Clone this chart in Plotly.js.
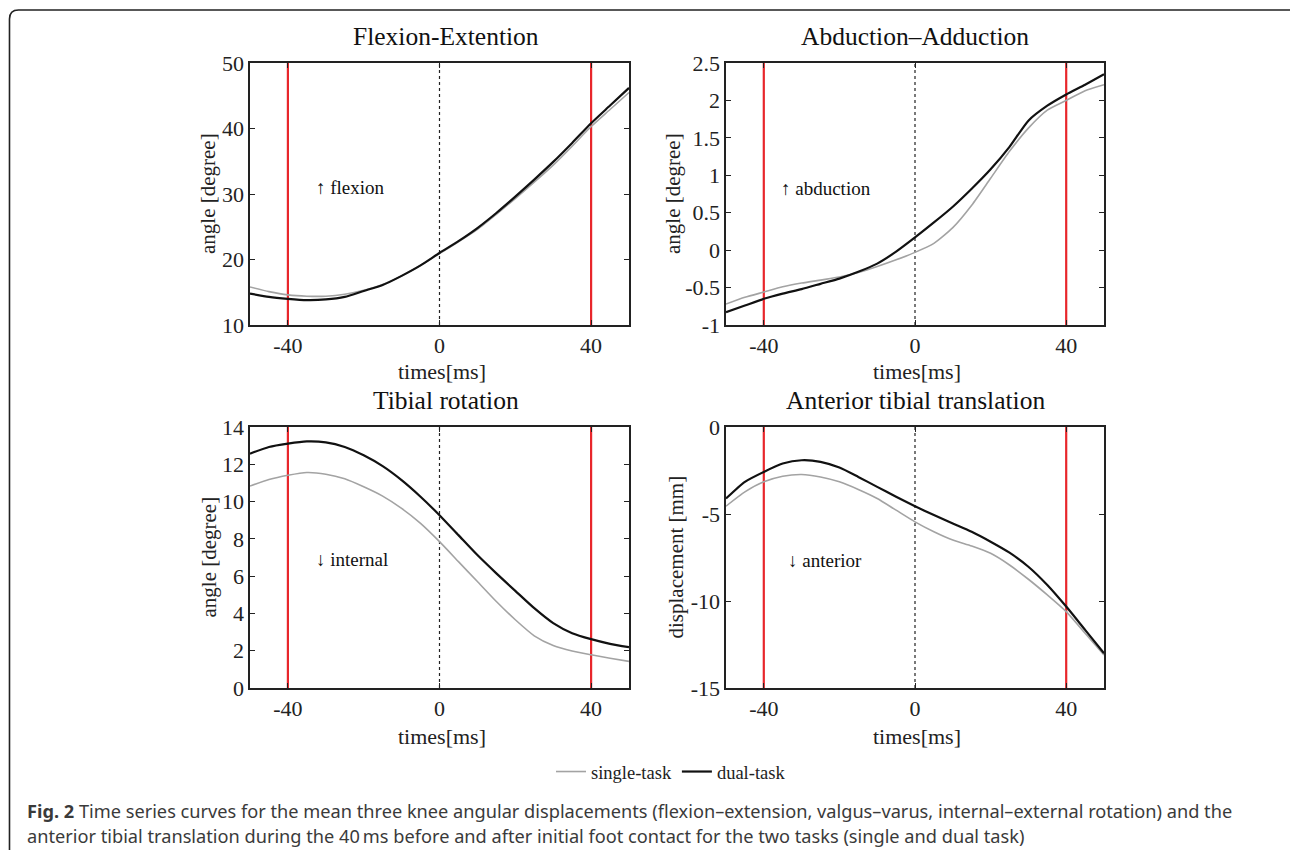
<!DOCTYPE html>
<html>
<head>
<meta charset="utf-8">
<script src="https://cdn.plot.ly/plotly-3.0.1.min.js"></script>
<style>html,body{margin:0;padding:0;background:#fff;}#chart{width:1290px;height:850px;}</style>
</head>
<body>
<div id="chart"></div>
<script>
// ---------------- data ----------------
const times = [-50,-45,-40,-35,-30,-25,-20,-15,-10,-5,0,5,10,15,20,25,30,35,40,45,50];

const flexSingle = [15.8,15.1,14.6,14.4,14.4,14.7,15.3,16.2,17.5,19.1,20.9,22.7,24.6,26.9,29.3,31.8,34.4,37.3,40.3,42.9,45.5];
const flexDual   = [14.8,14.3,14.0,13.8,13.9,14.3,15.2,16.1,17.5,19.1,21.0,22.8,24.8,27.1,29.6,32.2,34.9,37.8,40.8,43.5,46.2];

const abdSingle = [-0.72,-0.63,-0.56,-0.49,-0.44,-0.40,-0.36,-0.30,-0.22,-0.13,-0.03,0.09,0.30,0.60,0.96,1.32,1.63,1.87,2.00,2.13,2.21];
const abdDual   = [-0.83,-0.74,-0.65,-0.58,-0.52,-0.45,-0.38,-0.29,-0.18,-0.02,0.17,0.37,0.58,0.82,1.08,1.38,1.73,1.93,2.08,2.21,2.35];

const rotSingle = [10.83,11.18,11.41,11.56,11.47,11.22,10.79,10.29,9.63,8.83,7.85,6.78,5.71,4.64,3.66,2.80,2.28,1.98,1.78,1.60,1.43];
const rotDual   = [12.57,12.93,13.11,13.23,13.18,12.93,12.48,11.90,11.15,10.26,9.27,8.20,7.13,6.15,5.21,4.28,3.48,2.94,2.62,2.37,2.19];

const transSingle = [-4.55,-3.73,-3.15,-2.83,-2.73,-2.87,-3.15,-3.59,-4.11,-4.78,-5.45,-6.02,-6.50,-6.84,-7.26,-7.93,-8.75,-9.65,-10.61,-11.85,-13.1];
const transDual   = [-4.11,-3.15,-2.58,-2.10,-1.91,-2.00,-2.33,-2.87,-3.44,-4.01,-4.55,-5.06,-5.54,-6.02,-6.59,-7.22,-8.03,-9.08,-10.32,-11.66,-13.0];

const seriesNames = ['single-task','dual-task'];
const panelTitles = ['Flexion-Extention','Abduction\u2013Adduction','Tibial rotation','Anterior tibial translation'];
const yTitles = ['angle [degree]','angle [degree]','angle [degree]','displacement [mm]'];
const xTitle = 'times[ms]';
const directionLabels = ['\u2191 flexion','\u2191 abduction','\u2193 internal','\u2193 anterior'];
const directionPos = [[-33,31],[-36,0.83],[-33,6.9],[-34,-7.7]];

const xTickVals = [-40,0,40];
const xTickText = ['-40','0','40'];
const yTicks = [
  {vals:[10,20,30,40,50], text:['10','20','30','40','50'], range:[10,50]},
  {vals:[-1,-0.5,0,0.5,1,1.5,2,2.5], text:['-1','-0.5','0','0.5','1','1.5','2','2.5'], range:[-1,2.5]},
  {vals:[0,2,4,6,8,10,12,14], text:['0','2','4','6','8','10','12','14'], range:[0,14]},
  {vals:[-15,-10,-5,0], text:['-15','-10','-5','0'], range:[-15,0]}
];
const eventTimes = [-40,40];   // red lines
const contactTime = [0];       // dotted line

const caption1 = '<b>Fig. 2</b> Time series curves for the mean three knee angular displacements (flexion\u2013extension, valgus\u2013varus, internal\u2013external rotation) and the';
const caption2 = 'anterior tibial translation during the 40\u2009ms before and after initial foot contact for the two tasks (single and dual task)';

// ---------------- layout helpers ----------------
const W = 1290, H = 850;
const px = v => v / W;
const py = v => 1 - v / H;
const serif = 'Liberation Serif, Times New Roman, serif';
const txt = '#222';

// plot boxes in pixels [left,right,top,bottom]
const boxes = [[250,629,63,325],[726,1104,63,325],[250,629,427,688],[726,1104,427,688]];

const seriesData = [[flexSingle,flexDual],[abdSingle,abdDual],[rotSingle,rotDual],[transSingle,transDual]];
const traces = [];
seriesData.forEach((pair, i) => {
  const sfx = i === 0 ? '' : String(i + 1);
  pair.forEach((ys, j) => {
    traces.push({
      x: times, y: ys, type: 'scatter', mode: 'lines',
      name: seriesNames[j], legendgroup: seriesNames[j], showlegend: i === 0,
      xaxis: 'x' + sfx, yaxis: 'y' + sfx,
      line: {color: j === 0 ? '#a3a3a3' : '#111111', width: j === 0 ? 1.6 : 2.2, shape: 'spline', smoothing: 0.6},
      hoverinfo: 'skip'
    });
  });
});

const layout = {
  width: W, height: H,
  margin: {l:0, r:0, t:0, b:0},
  paper_bgcolor: '#fff', plot_bgcolor: '#fff',
  showlegend: true,
  legend: {orientation:'h', x: px(671), xanchor:'center', y: py(772), yanchor:'middle',
           font:{family:serif, size:18.5, color:txt}, bgcolor:'rgba(0,0,0,0)', itemwidth:30, tracegroupgap:0},
  shapes: [], annotations: []
};

boxes.forEach((b, i) => {
  const sfx = i === 0 ? '' : String(i + 1);
  const xa = {
    domain:[px(b[0]), px(b[1])], range:[-50,50], anchor:'y'+sfx,
    tickvals:xTickVals, ticktext:xTickText, ticks:'inside', ticklen:5, tickwidth:1, tickcolor:'#222',
    showline:true, linecolor:'#222', linewidth:1.6, mirror:'ticks', showgrid:false, zeroline:false,
    tickfont:{family:serif, size:22, color:txt}, fixedrange:true
  };
  const yt = yTicks[i];
  const ya = {
    domain:[py(b[3]), py(b[2])], range:yt.range, anchor:'x'+sfx,
    tickvals:yt.vals, ticktext:yt.text, ticks:'inside', ticklen:5, tickwidth:1, tickcolor:'#222',
    showline:true, linecolor:'#222', linewidth:1.6, mirror:'ticks', showgrid:false, zeroline:false,
    tickfont:{family:serif, size:22, color:txt}, fixedrange:true
  };
  layout['xaxis' + sfx] = xa;
  layout['yaxis' + sfx] = ya;

  eventTimes.forEach(t => layout.shapes.push({
    type:'line', xref:'x'+sfx, yref:'y'+sfx+' domain', x0:t, x1:t, y0:0, y1:1,
    line:{color:'#e8262b', width:2.2}, layer:'below'
  }));
  contactTime.forEach(t => layout.shapes.push({
    type:'line', xref:'x'+sfx, yref:'y'+sfx+' domain', x0:t, x1:t, y0:0, y1:1,
    line:{color:'#222', width:1.2, dash:'dot'}, layer:'below'
  }));

  const cx = (b[0] + b[1]) / 2;
  layout.annotations.push({
    text: panelTitles[i], xref:'paper', yref:'paper', x: px(cx + (i % 2 === 0 ? 6 : 0)), y: py(b[2] - 27),
    xanchor:'center', yanchor:'middle', showarrow:false, font:{family:serif, size:25.5, color:'#111'}
  });
  layout.annotations.push({
    text: xTitle, xref:'paper', yref:'paper', x: px(cx + 2), y: py(b[3] + (i < 2 ? 46 : 48)),
    xanchor:'center', yanchor:'middle', showarrow:false, font:{family:serif, size:22, color:txt}
  });
  layout.annotations.push({
    text: yTitles[i], xref:'paper', yref:'paper', x: px(i === 3 ? 675 : (i === 1 ? 673 : 208)), y: py((b[2] + b[3]) / 2),
    xanchor:'center', yanchor:'middle', textangle:-90, showarrow:false, font:{family:serif, size:21, color:txt}
  });
  layout.annotations.push({
    text: directionLabels[i], xref:'x'+sfx, yref:'y'+sfx, x: directionPos[i][0], y: directionPos[i][1],
    xanchor:'left', yanchor:'middle', showarrow:false, font:{family:serif, size:19, color:'#111'}
  });
});

// caption
layout.annotations.push({
  text: caption1, xref:'paper', yref:'paper', x: px(25), y: py(811), xanchor:'left', yanchor:'middle',
  showarrow:false, font:{family:'Noto Sans, Open Sans, sans-serif', size:18.2, color:'#3a3a3a'}
});
layout.annotations.push({
  text: caption2, xref:'paper', yref:'paper', x: px(25), y: py(836), xanchor:'left', yanchor:'middle',
  showarrow:false, font:{family:'Noto Sans, Open Sans, sans-serif', size:18.2, color:'#3a3a3a'}
});

// rounded frame
const r = 9;
const L = 9.5, T = 10, R = 1300, B = 870;
const fp = (x, y) => px(x).toFixed(5) + ',' + py(y).toFixed(5);
layout.shapes.push({
  type:'path', xref:'paper', yref:'paper', layer:'above',
  path: 'M' + fp(L, B) + ' L' + fp(L, T + r) + ' Q' + fp(L, T) + ' ' + fp(L + r, T) +
        ' L' + fp(R - r, T) + ' Q' + fp(R, T) + ' ' + fp(R, T + r) + ' L' + fp(R, B),
  line:{color:'#222', width:1.6}
});

Plotly.newPlot('chart', traces, layout, {displayModeBar:false, staticPlot:true});
</script>
</body>
</html>
